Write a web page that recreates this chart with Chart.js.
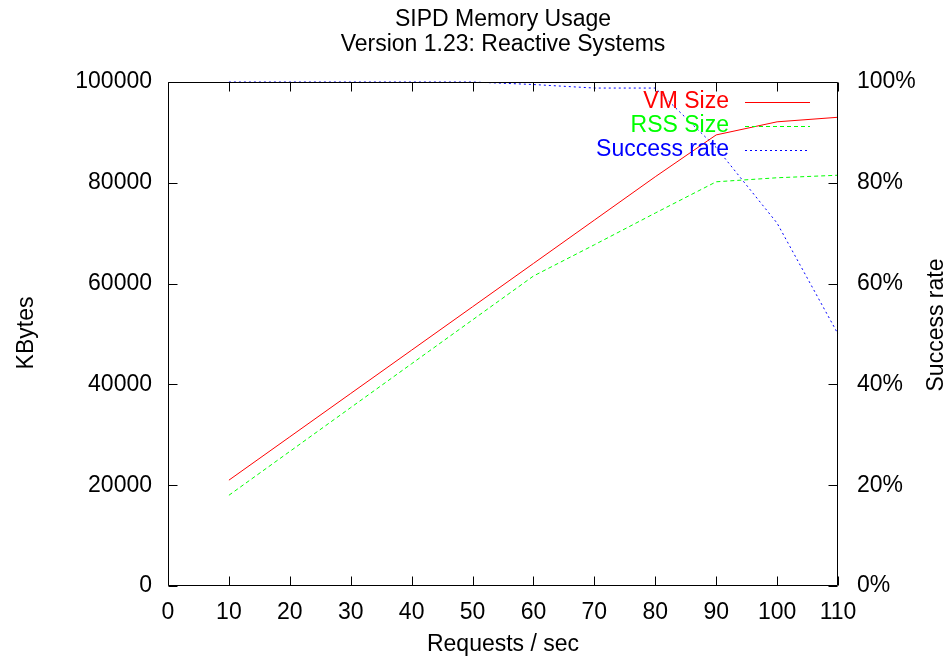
<!DOCTYPE html>
<html>
<head>
<meta charset="utf-8">
<title>SIPD Memory Usage</title>
<script src="https://cdn.jsdelivr.net/npm/chart.js@4.4.1/dist/chart.umd.min.js"></script>
<style>
  html, body { margin: 0; padding: 0; background: #fff; }
  #wrap { width: 951px; height: 660px; }
</style>
</head>
<body>
<div id="wrap"><canvas id="memChart" width="951" height="660"></canvas></div>
<script>
// measurements per load level
const requestRates   = [10, 20, 30, 40, 50, 60, 70, 80, 90, 100, 110];
const vmSizeKb       = [21000, 29600, 38200, 46800, 55400, 64000, 72600, 81200, 89500, 92100, 93000];
const rssSizeKb      = [18000, 26700, 35400, 44100, 52800, 61500, 67700, 74000, 80200, 81000, 81500];
const successRatePct = [100, 100, 100, 100, 100, 99.5, 98.8, 98.8, 87, 72, 50];

const titleLines = ['SIPD Memory Usage', 'Version 1.23: Reactive Systems'];
const FONT_SIZE = 23;
const FONT = FONT_SIZE + 'px "Liberation Sans", Arial, sans-serif';
const tickFont = { family: '"Liberation Sans"', size: FONT_SIZE };

function points(values) {
  return requestRates.map((r, i) => ({ x: r, y: values[i] }));
}

// frame, inward ticks, titles and the gnuplot-like key
const gnuplotDecor = {
  id: 'gnuplotDecor',
  afterDraw(chart) {
    const ctx = chart.ctx;
    const a = chart.chartArea;
    const L = Math.round(a.left) + 0.5, R = Math.round(a.right) - 0.5;
    const T = Math.round(a.top) + 0.5, B = Math.round(a.bottom) - 0.5;
    const tick = 9;

    ctx.save();
    ctx.strokeStyle = '#000';
    ctx.lineWidth = 1;
    ctx.beginPath();
    ctx.rect(L, T, R - L, B - T);

    chart.scales.x.ticks.forEach(t => {
      const px = Math.round(chart.scales.x.getPixelForValue(t.value)) + 0.5;
      ctx.moveTo(px, B); ctx.lineTo(px, B - tick);
      ctx.moveTo(px, T); ctx.lineTo(px, T + tick);
    });
    chart.scales.y.ticks.forEach(t => {
      const py = Math.round(chart.scales.y.getPixelForValue(t.value)) + 0.5;
      ctx.moveTo(L, py); ctx.lineTo(L + tick, py);
    });
    chart.scales.y2.ticks.forEach(t => {
      const py = Math.round(chart.scales.y2.getPixelForValue(t.value)) + 0.5;
      ctx.moveTo(R, py); ctx.lineTo(R - tick, py);
    });
    ctx.stroke();

    ctx.font = FONT;
    ctx.fillStyle = '#000';
    ctx.textAlign = 'center';
    ctx.textBaseline = 'middle';
    ctx.fillText(titleLines[0], 503, 20);
    ctx.fillText(titleLines[1], 503, 45);
    ctx.fillText('Requests / sec', 503, 645);

    ctx.save();
    ctx.translate(27, 333);
    ctx.rotate(-Math.PI / 2);
    ctx.fillText('KBytes', 0, 0);
    ctx.restore();

    ctx.save();
    ctx.translate(937, 325);
    ctx.rotate(-Math.PI / 2);
    ctx.fillText('Success rate', 0, 0);
    ctx.restore();

    // key: right-aligned label followed by a line sample
    chart.data.datasets.forEach((ds, i) => {
      const y = 102 + i * 24;
      ctx.fillStyle = ds.borderColor;
      ctx.textAlign = 'right';
      ctx.fillText(ds.label, 729, y);
      ctx.strokeStyle = ds.borderColor;
      ctx.setLineDash(ds.borderDash || []);
      ctx.beginPath();
      ctx.moveTo(745, y + 0.5);
      ctx.lineTo(810, y + 0.5);
      ctx.stroke();
    });
    ctx.restore();
  }
};

const ctx = document.getElementById('memChart').getContext('2d');

const memChart = new Chart(ctx, {
  type: 'line',
  data: {
    datasets: [
      {
        label: 'VM Size',
        data: points(vmSizeKb),
        borderColor: '#ff0000',
        borderWidth: 1,
        yAxisID: 'y'
      },
      {
        label: 'RSS Size',
        data: points(rssSizeKb),
        borderColor: '#00ff00',
        borderWidth: 1,
        borderDash: [4, 3],
        yAxisID: 'y'
      },
      {
        label: 'Success rate',
        data: points(successRatePct),
        borderColor: '#0000ff',
        borderWidth: 1,
        borderDash: [2, 3],
        clip: 3, // the 100% stretch runs along the top border
        yAxisID: 'y2'
      }
    ]
  },
  options: {
    responsive: false,
    animation: false,
    elements: {
      point: { radius: 0 },
      line: { tension: 0 }
    },
    layout: { padding: { top: 82, left: 0, right: 0, bottom: 0 } },
    plugins: {
      legend: { display: false },
      title: { display: false },
      tooltip: { enabled: false }
    },
    scales: {
      x: {
        type: 'linear',
        min: 0,
        max: 110,
        ticks: { stepSize: 10, color: '#000', font: tickFont, padding: 13, maxRotation: 0 },
        grid: { display: false, drawTicks: false },
        border: { display: false },
        afterFit(scale) { scale.height = 74; }
      },
      y: {
        position: 'left',
        min: 0,
        max: 100000,
        ticks: { stepSize: 20000, color: '#000', font: tickFont, padding: 16, callback: v => String(v) },
        grid: { display: false, drawTicks: false },
        border: { display: false },
        afterFit(scale) { scale.width = 168; }
      },
      y2: {
        position: 'right',
        min: 0,
        max: 100,
        ticks: {
          stepSize: 20,
          color: '#000',
          font: tickFont,
          padding: 19,
          callback: v => v + '%'
        },
        grid: { display: false, drawTicks: false },
        border: { display: false },
        afterFit(scale) { scale.width = 113; }
      }
    }
  },
  plugins: [gnuplotDecor]
});
</script>
</body>
</html>
